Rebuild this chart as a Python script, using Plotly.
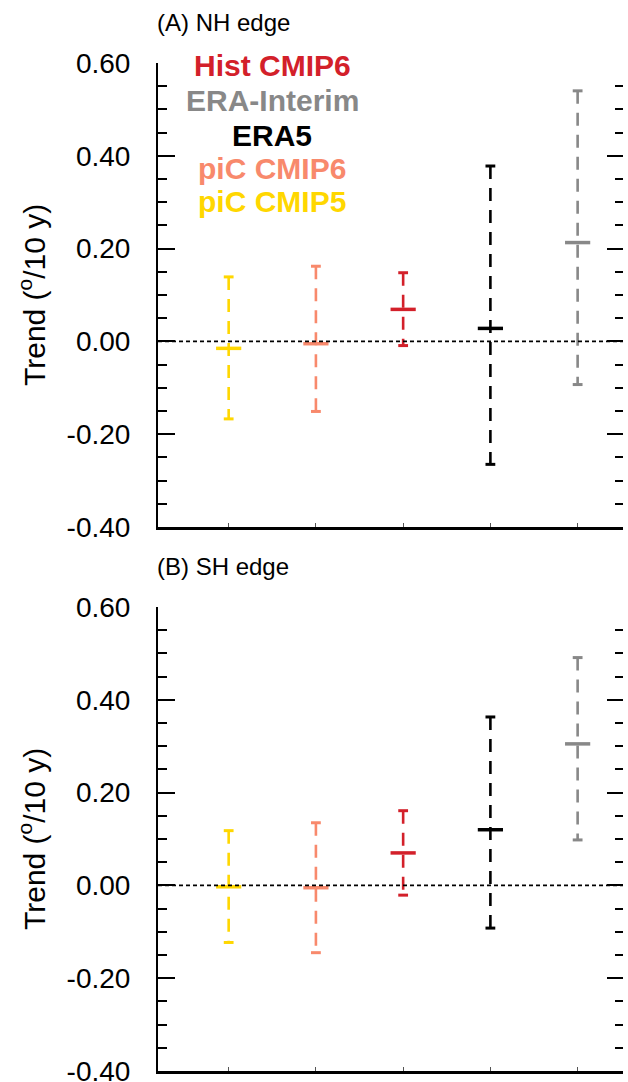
import plotly.graph_objects as go

# ---------------- data ----------------
models = ["piC CMIP5", "piC CMIP6", "Hist CMIP6", "ERA5", "ERA-Interim"]
positions = [1, 2, 3, 4, 5]
colors = ["#FFD700", "#F8896C", "#D3202A", "#000000", "#888888"]

nh_mean = [-0.015, -0.005, 0.069, 0.028, 0.213]
nh_low = [-0.167, -0.151, -0.009, -0.265, -0.093]
nh_high = [0.139, 0.162, 0.148, 0.378, 0.540]

sh_mean = [-0.003, -0.005, 0.070, 0.120, 0.305]
sh_low = [-0.123, -0.145, -0.021, -0.092, 0.098]
sh_high = [0.118, 0.135, 0.161, 0.363, 0.491]

legend_order = ["Hist CMIP6", "ERA-Interim", "ERA5", "piC CMIP6", "piC CMIP5"]
panel_titles = ["(A) NH edge", "(B) SH edge"]
y_title = "Trend (<sup>o</sup>/10 y)"
y_ticks = [-0.4, -0.2, 0.0, 0.2, 0.4, 0.6]
y_ticktext = ["-0.40", "-0.20", "0.00", "0.20", "0.40", "0.60"]

FONT = "Liberation Sans, Arial, Helvetica, sans-serif"

# page-pixel layout targets (page body margin removed by post_script)
PLOT_L, PLOT_R = 158, 623
PLOT_T, PLOT_B = 63, 1071
W = 628
H = 1082
ML = PLOT_L
MT = PLOT_T
MR = W - PLOT_R
MB = H - PLOT_B
plot_h = PLOT_B - PLOT_T
plot_w = PLOT_R - PLOT_L
panel_px = 464
top_dom = [1 - panel_px / plot_h, 1.0]
bot_dom = [0.0, panel_px / plot_h]

fig = go.Figure()

panels = [
    ("x", "y", "y3", nh_mean, nh_low, nh_high),
    ("x2", "y2", "y4", sh_mean, sh_low, sh_high),
]

for xa, ya, yr, mean, low, high in panels:
    for i in range(len(models)):
        fig.add_trace(go.Scatter(
            x=[positions[i], positions[i]], y=[high[i], low[i]],
            mode="lines", xaxis=xa, yaxis=ya, showlegend=False, hoverinfo="skip",
            line=dict(color=colors[i], width=2.6, dash="13px,9px"),
        ))
        fig.add_trace(go.Scatter(
            x=[positions[i], positions[i]], y=[high[i], low[i]],
            mode="markers", xaxis=xa, yaxis=ya, showlegend=False, hoverinfo="skip",
            marker=dict(symbol="line-ew", size=7, line=dict(color=colors[i], width=3)),
        ))
        fig.add_trace(go.Scatter(
            x=[positions[i]], y=[mean[i]],
            mode="markers", xaxis=xa, yaxis=ya, showlegend=False, hoverinfo="skip",
            marker=dict(symbol="line-ew", size=18, line=dict(color=colors[i], width=3.5)),
        ))
    fig.add_trace(go.Scatter(x=[positions[0]], y=[0], mode="markers", xaxis=xa, yaxis=yr,
                             marker=dict(opacity=0), showlegend=False, hoverinfo="skip"))

xcommon = dict(range=[0.19, 5.52], showline=True, linewidth=2.5, linecolor="black",
               ticks="inside", ticklen=4, tickwidth=1, tickcolor="#555555",
               tickvals=positions, showticklabels=False, showgrid=False, zeroline=False,
               automargin=False)
ycommon = dict(range=[-0.4, 0.6], tickvals=y_ticks, ticktext=y_ticktext,
               showline=True, linewidth=2, linecolor="black",
               ticks="inside", ticklen=17, tickwidth=2, tickcolor="black",
               minor=dict(dtick=0.05, tick0=0, ticklen=9, tickwidth=1.5, ticks="inside",
                          tickcolor="black", showgrid=False),
               showgrid=False, zeroline=False, ticklabelstandoff=20, automargin=False,
               ticklabeloverflow="allow",
               tickfont=dict(family=FONT, size=28, color="black"))
yright = dict(range=[-0.4, 0.6], tickvals=y_ticks, showticklabels=False,
              showline=False, side="right", automargin=False,
              ticks="inside", ticklen=16, tickwidth=2, tickcolor="black",
              minor=dict(dtick=0.05, tick0=0, ticklen=8, tickwidth=1.5, ticks="inside",
                         tickcolor="black", showgrid=False),
              showgrid=False, zeroline=False)

fig.update_layout(
    width=W, height=H,
    margin=dict(l=ML, r=MR, t=MT, b=MB),
    paper_bgcolor="white", plot_bgcolor="white",
    font=dict(family=FONT, color="black"),
    xaxis=dict(domain=[0, 1], anchor="y", **xcommon),
    xaxis2=dict(domain=[0, 1], anchor="y2", **xcommon),
    yaxis=dict(domain=top_dom, anchor="x", **ycommon),
    yaxis2=dict(domain=bot_dom, anchor="x2", **ycommon),
    yaxis3=dict(overlaying="y", anchor="x", **yright),
    yaxis4=dict(overlaying="y2", anchor="x2", **yright),
)

for xa, ya in [("x", "y"), ("x2", "y2")]:
    fig.add_shape(type="line", xref=f"{xa} domain", yref=ya, x0=0, x1=1, y0=0, y1=0,
                  line=dict(color="black", width=1.6, dash="4px,3px"))

def py(px):
    return (PLOT_B - px) / plot_h

def pxx(px):
    return (px - PLOT_L) / plot_w

fig.add_annotation(text=panel_titles[0], x=pxx(155), y=py(23), xref="paper", yref="paper",
                   xanchor="left", yanchor="middle", showarrow=False,
                   font=dict(family=FONT, size=24, color="black"))
fig.add_annotation(text=panel_titles[1], x=pxx(155), y=py(566), xref="paper", yref="paper",
                   xanchor="left", yanchor="middle", showarrow=False,
                   font=dict(family=FONT, size=24, color="black"))

for cy in [295, 839]:
    fig.add_annotation(text=y_title, x=pxx(32), y=py(cy), xref="paper", yref="paper",
                       xanchor="center", yanchor="middle", textangle=-90, showarrow=False,
                       font=dict(family=FONT, size=30, color="black"))

leg_y = [65, 101, 136, 169, 202]
for name, ly in zip(legend_order, leg_y):
    c = colors[models.index(name)]
    fig.add_annotation(text=f"<b>{name}</b>", x=pxx(272), y=py(ly), xref="paper", yref="paper",
                       xanchor="center", yanchor="middle", showarrow=False,
                       font=dict(family=FONT, size=30, color=c))

fig.write_html(
    "out.html",
    config={"displayModeBar": False},
    post_script="document.body.style.margin='0';document.body.style.overflow='hidden';",
)
